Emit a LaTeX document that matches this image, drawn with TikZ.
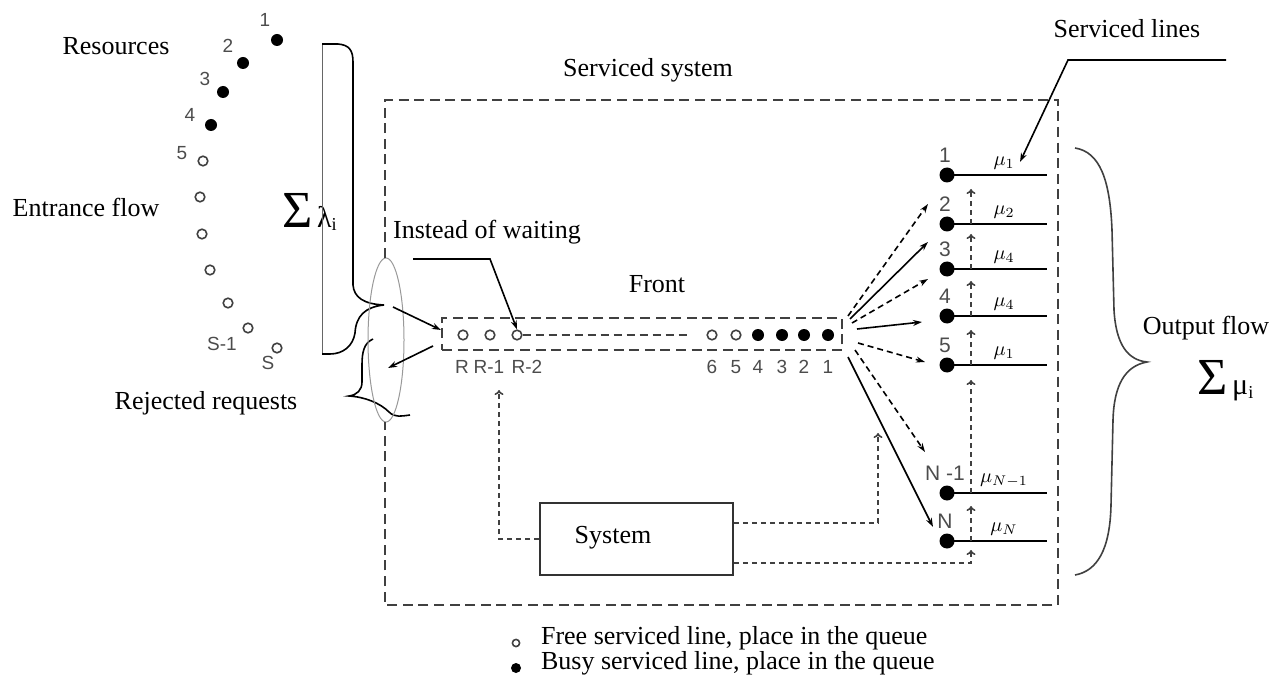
\documentclass[tikz,border=0pt]{standalone}
\usepackage{fontspec}
\setmainfont{Liberation Serif}
\newfontfamily\numfont{Liberation Sans}
\usetikzlibrary{arrows.meta}

\begin{document}
\begin{tikzpicture}[x=0.5pt, y=-0.5pt, font=\fontsize{13}{15}\selectfont,
    busy/.style={circle, fill=black, inner sep=0pt, minimum size=6pt},
    free/.style={circle, draw=black!75, line width=0.8pt, inner sep=0pt, minimum size=4.8pt},
    num/.style={font=\numfont\fontsize{9.5}{10}\selectfont, text=black!70, inner sep=0pt},
    mu/.style={font=\fontsize{10}{10}\selectfont, inner sep=0pt},
    frame/.style={draw=black!75, line width=1pt, dash pattern=on 5pt off 2.8pt},
    link/.style={draw=black!75, line width=0.8pt, dash pattern=on 2.5pt off 2pt},
    tip/.style={-{Stealth[length=4.5pt, width=3pt]}},
    uptip/.style={-{To[length=2.5pt, width=4.5pt]}}]
  \useasboundingbox (0,0) rectangle (1284,684);

  % resources
  \foreach \x/\y/\lx/\ly [count=\i] in {277/40/265/20, 243/63/228/46, 223/92/205/79, 211/125/190/115}
  {
    \node[busy] (r\i) at (\x,\y) {};
    \node[num] (rl\i) at (\lx,\ly) {\i};
  }
  \foreach \x/\y [count=\i from 5] in {203/161, 200/197, 202/234, 210/270, 228/303, 248/328, 277/348}
    \node[free] (r\i) at (\x,\y) {};
  \node[num] (rl5) at (182,153) {5};
  \node[num] (rl10) at (222,344) {S-1};
  \node[num] (rl11) at (268,363) {S};

  \node (res) at (116,46) {Resources};
  \node (entr) at (86,207) {Entrance flow};
  \node (rej) at (206,403) {Rejected requests};
  \node (lam) at (310,212) {{\fontsize{26}{26}\selectfont Σ}\,{\fontsize{15}{15}\selectfont λ}$_{\mathrm{i}}$};

  % input bracket
  \draw[black!60, line width=0.5pt] (322,44) -- (322,354);
  \draw[line width=0.8pt] (322,44) -- (338,44) .. controls (349,45) and (353,50) .. (353,62)
    -- (353,285) .. controls (354,297) and (363,304) .. (384,305)
    .. controls (365,307) and (356,316) .. (355,333)
    .. controls (353,346) and (343,354) .. (330,354) -- (322,354);
  % rejected bracket
  \draw[line width=0.8pt] (373,339) .. controls (364,343) and (362,352) .. (362,365) -- (362,382)
    .. controls (362,390) and (357,395) .. (349,396)
    .. controls (365,397) and (380,403) .. (389,412)
    .. controls (395,418) and (402,416) .. (410,415);
  \draw[black!40, line width=0.5pt] (386,340) ellipse [x radius=18, y radius=82];

  % serviced system
  \draw[frame] (385,258) -- (385,100) -- (1058,100) -- (1058,605) -- (385,605) -- (385,422);
  \node (sys) at (648,70) {Serviced system};

  % front queue
  \node[frame, minimum width=200pt, minimum height=16pt, inner sep=0pt] (front) at (642,334) {};
  \node (fronttxt) at (657,284) {Front};
  \foreach \x/\lx/\t [count=\i] in {463/462/R, 490/489/R-1, 517/527/R-2}
  {
    \node[free] (q\i) at (\x,335) {};
    \node[num] (ql\i) at (\lx,367) {\t};
  }
  \draw[black!75, line width=0.7pt, dash pattern=on 4pt off 2.5pt] (q3) -- (688,335);
  \foreach \x/\t [count=\i from 4] in {712/6, 736/5}
  {
    \node[free] (q\i) at (\x,335) {};
    \node[num] (ql\i) at (\x,367) {\t};
  }
  \foreach \x/\t [count=\i from 6] in {758/4, 782/3, 804/2, 828/1}
  {
    \node[busy] (q\i) at (\x,335) {};
    \node[num] (ql\i) at (\x,367) {\t};
  }

  \node (wait) at (487,232) {Instead of waiting};
  \coordinate (w1) at (413,259);
  \coordinate (w2) at (490,259);
  \draw[tip, line width=0.8pt] (w1) -- (w2) -- (q3.north);
  \draw[tip, line width=0.8pt] (393,307) -- ([yshift=2pt]front.west);
  \draw[tip, line width=0.8pt] ([xshift=-4pt, yshift=-6pt]front.west) -- (388,368);

  % serviced lines
  \foreach \y/\n/\m [count=\i] in {175/1/1, 224/2/2, 269/3/4, 316/4/4, 365/5/1, 493/{N -1}/{N-1}, 541/N/N}
  {
    \node[busy, minimum size=7.5pt] (s\i) at (947,\y) {};
    \coordinate (e\i) at (1047,\y);
    \coordinate (u\i) at (971,\y);
    \draw[line width=1pt] (s\i.center) -- (e\i);
    \node[num, font=\numfont\fontsize{10.5}{11}\selectfont] (n\i) at (945,\y-20) {\n};
    \node[mu] (m\i) at (1004,\y-12) {$\mu_{\m}$};
  }
  \foreach \i in {2,3,4,5,7}
    \draw[link, uptip] (u\i) -- ++(0,-35);
  \draw[link, uptip] (u6) -- (971,380);

  % fan from the front to the lines
  \foreach \sx/\sy/\tx/\ty/\ds in {848/316/928/204/densely dashed, 850/319/928/242/solid,
      852/323/928/279/densely dashed, 857/329/922/322/solid, 858/343/925/362/densely dashed,
      855/350/925/452/densely dashed, 848/357/933/527/solid}
    \draw[tip, line width=0.8pt, \ds] (\sx,\sy) -- (\tx,\ty);

  \node (lines) at (1127,29) {Serviced lines};
  \coordinate (p1) at (1226,60);
  \coordinate (p2) at (1068,60);
  \draw[tip, line width=0.8pt] (p1) -- (p2) -- (1020,162);

  % system block
  \node[draw=black!80, line width=0.8pt, minimum width=96.5pt, minimum height=36pt] (blk) at (636.5,539) {};
  \node (blktxt) at (613,538) {System};
  \draw[link, uptip] (blk.west) -- (499,539) -- (499,390);
  \draw[link, uptip] ([yshift=8pt]blk.east) -- (878,523) -- (878,433);
  \draw[link, uptip] ([yshift=-12pt]blk.east) -- (971,563) -- (971,550);

  % output bracket
  \draw[black!75, line width=0.8pt] (1075,148) .. controls (1100,152) and (1110,180) .. (1112,230)
    -- (1114,310) .. controls (1116,345) and (1128,360) .. (1147,362)
    .. controls (1125,366) and (1114,385) .. (1113,420)
    -- (1111,505) .. controls (1110,550) and (1097,571) .. (1075,575);
  \node (out) at (1206,328) {Output flow};
  \node (mus) at (1226,381) {{\fontsize{26}{26}\selectfont Σ}\,{\fontsize{15}{15}\selectfont μ}$_{\mathrm{i}}$};

  % legend
  \node[free, minimum size=3.6pt] (lf) at (516,643) {};
  \node[anchor=west] (lft) at (534,638) {Free serviced line, place in the queue};
  \node[busy, minimum size=5pt] (lb) at (516,668) {};
  \node[anchor=west] (lbt) at (534,663) {Busy serviced line, place in the queue};
\end{tikzpicture}
\end{document}
